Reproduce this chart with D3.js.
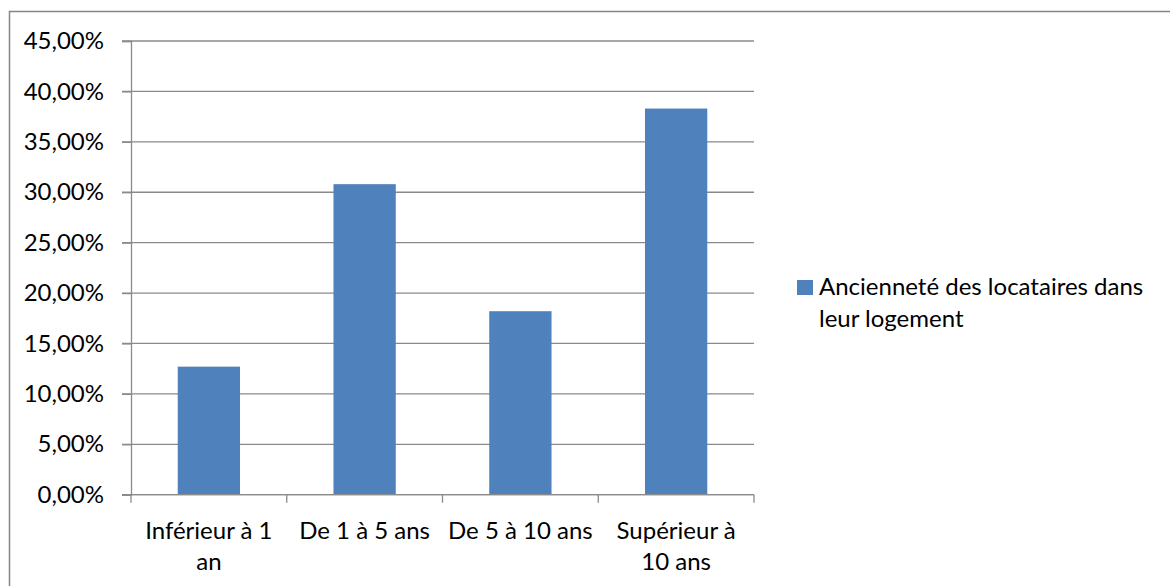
<!DOCTYPE html>
<html>
<head>
<meta charset="utf-8">
<script src="https://cdn.jsdelivr.net/npm/d3@7"></script>
<style>
    html, body { margin: 0; padding: 0; background: #fff; }
    svg text { font-family: Lato, "Open Sans", sans-serif; fill: #000; }
</style>
</head>
<body>
<div id="chart"></div>
<script>
(function() {
    'use strict';

    // data
    var categories = ["Inférieur à 1 an", "De 1 à 5 ans", "De 5 à 10 ans", "Supérieur à 10 ans"];
    var values = [0.127, 0.308, 0.182, 0.383];
    var yTicks = [0, 0.05, 0.10, 0.15, 0.20, 0.25, 0.30, 0.35, 0.40, 0.45];
    var seriesName = ["Ancienneté des locataires dans", "leur logement"];

    var width = 1170, height = 586;
    var fontSize = 24;
    var gridColor = "#8a8a8a";
    var barColor = "#4f81bd";

    var fr = d3.formatLocale({decimal: ",", thousands: " ", grouping: [3], currency: ["", " €"]});
    var pct = fr.format(".2%");

    var x = d3.scaleBand()
        .domain(categories)
        .range([131, 754])
        .paddingInner(0.6)
        .paddingOuter(0.3);

    var y = d3.scaleLinear()
        .domain([0, 0.45])
        .range([494.7, 41]);

    var svg = d3.select("#chart").append("svg")
        .attr("width", width)
        .attr("height", height);

    // outer frame (cut off at right and bottom)
    svg.append("rect")
        .attr("x", 9.5).attr("y", 11.5)
        .attr("width", 1200).attr("height", 700)
        .attr("fill", "none")
        .attr("stroke", "#868686")
        .attr("stroke-width", 1.5);

    // horizontal gridlines
    svg.append("g")
        .selectAll("line")
        .data(yTicks)
        .enter().append("line")
        .attr("x1", 122).attr("x2", 754)
        .attr("y1", d => y(d)).attr("y2", d => y(d))
        .attr("stroke", gridColor)
        .attr("stroke-width", 1.3);

    // y axis
    var yAxis = svg.append("g")
        .attr("transform", "translate(131,0)")
        .call(d3.axisLeft(y).tickValues(yTicks).tickFormat(pct).tickSize(9).tickPadding(18));
    yAxis.select(".domain").attr("stroke", gridColor).attr("stroke-width", 1.3);
    yAxis.selectAll(".tick line").attr("stroke", gridColor).attr("stroke-width", 1.3);
    yAxis.selectAll("text")
        .style("font-size", fontSize + "px")
        .style("font-family", "Lato, 'Open Sans', sans-serif")
        .attr("fill", "#000");

    // bars
    svg.append("g")
        .selectAll("rect")
        .data(values)
        .enter().append("rect")
        .attr("x", (d, i) => x(categories[i]))
        .attr("y", d => y(d))
        .attr("width", x.bandwidth())
        .attr("height", d => y(0) - y(d))
        .attr("fill", barColor);

    // x axis: line + ticks between categories
    var bounds = categories.map(c => x(c) - x.step() * x.paddingOuter()).concat([x.range()[1]]);
    svg.append("line")
        .attr("x1", 131).attr("x2", 754)
        .attr("y1", y(0)).attr("y2", y(0))
        .attr("stroke", gridColor).attr("stroke-width", 1.3);
    svg.append("g")
        .selectAll("line")
        .data(bounds)
        .enter().append("line")
        .attr("x1", d => d).attr("x2", d => d)
        .attr("y1", y(0)).attr("y2", y(0) + 8)
        .attr("stroke", gridColor).attr("stroke-width", 1.3);

    // x labels, wrapped to the category width
    var labels = svg.append("g")
        .selectAll("text")
        .data(categories)
        .enter().append("text")
        .attr("x", d => x(d) + x.bandwidth() / 2)
        .attr("y", 539)
        .attr("text-anchor", "middle")
        .style("font-size", fontSize + "px");

    labels.each(function(d) {
        var el = d3.select(this);
        var words = d.split(" ");
        var line = [];
        var cx = +el.attr("x");
        var tspan = el.append("tspan").attr("x", cx).attr("dy", 0);
        words.forEach(function(w) {
            line.push(w);
            tspan.text(line.join(" "));
            if (tspan.node().getComputedTextLength() > 150 && line.length > 1) {
                line.pop();
                tspan.text(line.join(" "));
                line = [w];
                tspan = el.append("tspan").attr("x", cx).attr("dy", 31).text(w);
            }
        });
    });

    // legend
    var legend = svg.append("g");
    legend.append("rect")
        .attr("x", 797).attr("y", 280)
        .attr("width", 16).attr("height", 15)
        .attr("fill", barColor);
    legend.selectAll("text")
        .data(seriesName)
        .enter().append("text")
        .attr("x", 819)
        .attr("y", (d, i) => 295 + i * 32)
        .style("font-size", fontSize + "px")
        .text(d => d);
})();
</script>
</body>
</html>
